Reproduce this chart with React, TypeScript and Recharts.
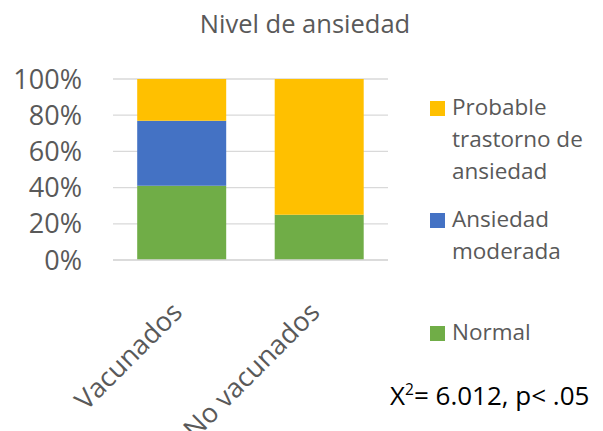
import React from 'react';
import { BarChart, Bar, XAxis, YAxis, CartesianGrid } from 'recharts';

const categories = ['Vacunados', 'No vacunados'];
const normal = [41, 25];
const moderada = [36, 0];
const probable = [23, 75];
const yTicks = [0, 20, 40, 60, 80, 100];
const seriesNames = ['Normal', 'Ansiedad moderada', 'Probable trastorno de ansiedad'];
const seriesColors = ['#70AD47', '#4472C4', '#FFC000'];
const title = 'Nivel de ansiedad';

const data = categories.map((c, i) => ({
  name: c,
  normal: normal[i],
  moderada: moderada[i],
  probable: probable[i],
}));

const FONT = '"Open Sans", sans-serif';
const GRAY = '#595959';

const XTick = (props: any) => {
  const { x, y, payload } = props;
  const ax = x + 2;
  const ay = y + 46;
  return (
    <text
      x={ax}
      y={ay}
      transform={`rotate(-45, ${ax}, ${ay})`}
      textAnchor="end"
      fontSize={27}
      fill={GRAY}
      fontFamily={FONT}
    >
      {payload.value}
    </text>
  );
};

const legendTops = [91, 203, 316];

const LegendBox = () => {
  const order = [2, 1, 0];
  return (
    <div style={{ position: 'absolute', left: 430, top: 0, width: 173, height: 431, fontFamily: FONT }}>
      {order.map((si, i) => (
        <div key={seriesNames[si]} style={{ position: 'absolute', left: 0, top: legendTops[i], width: 173 }}>
          <div
            style={{
              position: 'absolute',
              left: 0,
              top: 10,
              width: 15,
              height: 15,
              background: seriesColors[si],
            }}
          />
          <div
            style={{
              position: 'absolute',
              left: 22,
              top: 0,
              width: 150,
              fontSize: 22.5,
              lineHeight: '32px',
              color: GRAY,
              textAlign: 'left',
            }}
          >
            {seriesNames[si]}
          </div>
        </div>
      ))}
    </div>
  );
};

export default function App() {
  return (
    <div style={{ position: 'absolute', left: 0, top: 0, width: 603, height: 431, background: '#fff' }}>
      <div
        style={{
          position: 'absolute',
          left: 0,
          top: 7,
          width: 610,
          textAlign: 'center',
          fontFamily: FONT,
          fontSize: 25.5,
          lineHeight: '32px',
          color: GRAY,
        }}
      >
        {title}
      </div>
      <BarChart
        width={603}
        height={431}
        data={data}
        margin={{ top: 79, right: 215, bottom: 21, left: 53 }}
        barCategoryGap="17.6%"
      >
        <CartesianGrid vertical={false} stroke="#d9d9d9" strokeWidth={1.3} />
        <XAxis
          dataKey="name"
          height={150}
          axisLine={{ stroke: '#d9d9d9', strokeWidth: 1.3 }}
          tickLine={false}
          tick={<XTick />}
          interval={0}
        />
        <YAxis
          width={60}
          domain={[0, 100]}
          ticks={yTicks}
          axisLine={false}
          tickLine={false}
          tickSize={0}
          tickMargin={31}
          tickFormatter={(v: number) => `${v}%`}
          tick={{ fontSize: 27, fill: GRAY, fontFamily: FONT }}
        />
        <Bar dataKey="normal" name={seriesNames[0]} stackId="a" fill={seriesColors[0]} isAnimationActive={false} />
        <Bar dataKey="moderada" name={seriesNames[1]} stackId="a" fill={seriesColors[1]} isAnimationActive={false} />
        <Bar dataKey="probable" name={seriesNames[2]} stackId="a" fill={seriesColors[2]} isAnimationActive={false} />
      </BarChart>
      <LegendBox />
      <div
        style={{
          position: 'absolute',
          left: 390,
          top: 379,
          whiteSpace: 'nowrap',
          fontFamily: FONT,
          fontSize: 26,
          lineHeight: '32px',
          color: '#000',
        }}
      >
        X<sup style={{ fontSize: 15.5, lineHeight: 0, verticalAlign: 'super' }}>2</sup>= 6.012, p&lt; .05
      </div>
    </div>
  );
}
